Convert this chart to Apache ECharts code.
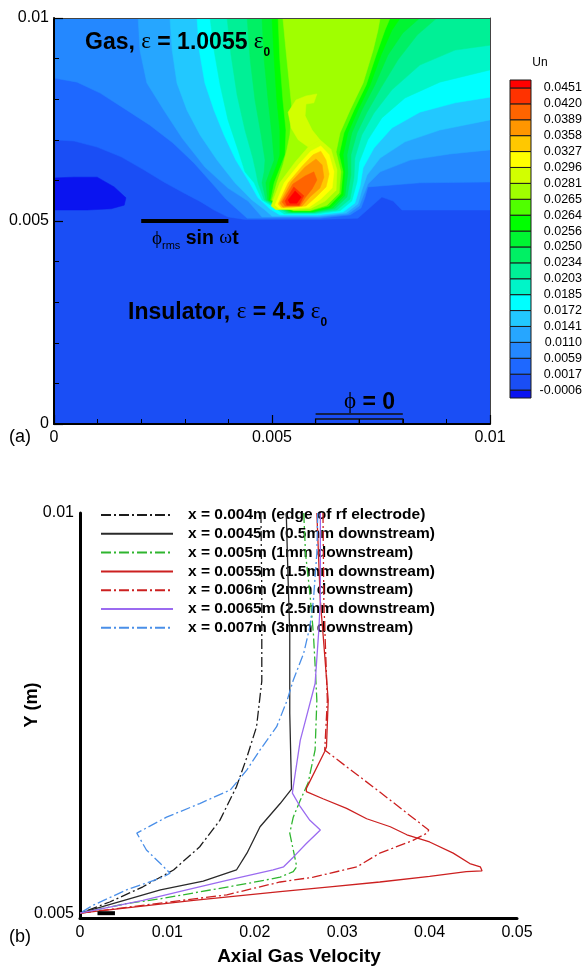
<!DOCTYPE html>
<html>
<head>
<meta charset="utf-8">
<script src="https://cdn.jsdelivr.net/npm/echarts@6.0.0/dist/echarts.min.js"></script>
<style>
  html, body { margin: 0; padding: 0; background: #fff; }
  #chart { width: 585px; height: 971px; }
</style>
</head>
<body>
<div id="chart"></div>
<script>
// ---------- (a) Un contour field ----------
// Contour levels shown on the colour bar (ascending)
const unLevels = [-0.0006, 0.0017, 0.0059, 0.0110, 0.0141, 0.0172, 0.0185, 0.0203, 0.0234, 0.0250,
                  0.0256, 0.0264, 0.0265, 0.0281, 0.0296, 0.0327, 0.0358, 0.0389, 0.0420, 0.0451];
// Fill colour of each band, from below the lowest level to above the highest
const bandColors = ['#0a14f0', '#1a4ef5', '#1e68ff', '#2488ff', '#26a6ff', '#22c8ff', '#00ffff',
                    '#00f5c8', '#00f096', '#00f064', '#00f532', '#00ff00', '#50ff00', '#a0ff00',
                    '#d2ff00', '#ffff00', '#ffc800', '#ff9600', '#ff6400', '#ff3200', '#ff0000'];

// Band outlines in mm [x, y]; each one encloses where Un lies in that band or above
const band1Base = [[0,0],[10,0],[10,10],[0,10]];
const band0Pocket = [[0,6.06],[0.46,6.08],[0.99,6.08],[1.38,5.84],[1.65,5.57],[1.61,5.39],[1.31,5.30],[0.76,5.27],[0,5.27]];
const band2 = [[0,10],[10,10],[10,5.27],[7.98,5.27],[7.78,5.49],[7.52,5.59],[6.97,5.07],[6.10,5.04],[4.38,5.04],[3.99,5.10],[3.67,5.27],[3.37,5.47],[2.98,5.69],[2.52,5.96],[2.06,6.26],[1.54,6.58],[0.99,6.82],[0.46,6.97],[0,7.00]];
const band3 = [[0,10],[10,10],[10,5.96],[8.39,5.94],[7.20,5.84],[7.13,5.57],[7.04,5.32],[6.79,5.15],[6.10,5.07],[4.43,5.07],[3.94,5.54],[3.60,5.96],[3.21,6.43],[2.73,6.92],[2.20,7.36],[1.67,7.73],[1.06,8.15],[0.53,8.42],[0,8.52]];
const band4 = [[1.93,10],[10,10],[10,6.75],[9.08,6.65],[8.17,6.50],[7.48,6.21],[7.20,5.91],[7.09,5.62],[7.00,5.37],[6.74,5.17],[6.08,5.10],[4.77,5.10],[4.45,5.49],[3.99,5.81],[3.46,6.33],[2.94,7.04],[2.52,7.73],[2.13,8.40],[1.97,9.21]];
const band5 = [[2.66,10],[10,10],[10,7.49],[8.85,7.24],[8.05,6.95],[7.48,6.55],[7.18,6.13],[7.06,5.76],[6.97,5.42],[6.70,5.20],[6.06,5.12],[5.00,5.12],[4.84,5.27],[4.54,5.52],[4.15,5.94],[3.74,6.50],[3.35,7.12],[3.05,7.73],[2.82,8.40],[2.71,9.21]];
const band6 = [[3.28,10],[10,10],[10,8.05],[9.20,7.91],[8.39,7.68],[7.75,7.29],[7.34,6.80],[7.09,6.31],[7.02,5.86],[6.90,5.44],[6.63,5.22],[6.03,5.15],[5.18,5.15],[4.95,5.30],[4.68,5.57],[4.45,6.01],[4.17,6.50],[3.90,7.12],[3.67,7.73],[3.46,8.40],[3.33,9.21]];
const band7 = [[3.58,10],[10,10],[10,8.72],[8.85,8.42],[8.05,8.03],[7.52,7.54],[7.20,7.00],[7.00,6.45],[6.95,5.96],[6.83,5.49],[6.56,5.25],[6.01,5.17],[5.28,5.17],[5.07,5.32],[4.77,5.52],[4.59,5.94],[4.38,6.21],[4.22,6.75],[3.99,7.49],[3.81,8.35],[3.67,9.21]];
const band8 = [[3.97,10],[10,10],[10,9.33],[9.20,9.21],[8.39,8.84],[7.75,8.23],[7.34,7.66],[7.06,7.12],[6.90,6.55],[6.88,6.06],[6.79,5.54],[6.49,5.27],[5.99,5.20],[5.34,5.20],[5.11,5.33],[4.82,5.52],[4.68,5.94],[4.63,6.21],[4.56,6.55],[4.38,7.24],[4.20,8.10],[4.06,9.09]];
const band9 = [[4.43,10],[8.78,10],[8.33,9.58],[7.89,8.97],[7.50,8.28],[7.18,7.68],[6.95,7.17],[6.81,6.63],[6.81,6.13],[6.72,5.59],[6.44,5.30],[5.96,5.21],[5.39,5.21],[5.16,5.34],[4.86,5.52],[4.77,5.94],[4.82,6.21],[4.84,6.50],[4.75,7.12],[4.61,7.98],[4.50,8.97]];
const band10 = [[4.77,10],[8.39,10],[8.00,9.63],[7.66,9.09],[7.36,8.35],[7.06,7.73],[6.83,7.17],[6.72,6.63],[6.74,6.18],[6.67,5.62],[6.40,5.32],[5.94,5.22],[5.44,5.22],[5.18,5.34],[4.90,5.52],[4.86,5.94],[4.95,6.21],[5.05,6.50],[5.00,7.12],[4.91,7.98],[4.82,8.97]];
const band11 = [[5.00,10],[7.94,10],[7.75,9.70],[7.50,9.09],[7.25,8.35],[6.97,7.73],[6.74,7.17],[6.63,6.63],[6.67,6.21],[6.63,5.64],[6.35,5.34],[5.92,5.23],[5.46,5.23],[5.21,5.36],[4.93,5.52],[4.95,5.94],[5.11,6.38],[5.18,6.63],[5.18,7.24],[5.11,7.98],[5.05,8.97]];
const band12 = [[5.14,10],[7.71,10],[7.59,9.70],[7.39,9.09],[7.16,8.35],[6.88,7.73],[6.65,7.17],[6.54,6.63],[6.63,6.21],[6.58,5.67],[6.31,5.37],[5.89,5.25],[5.48,5.25],[5.23,5.37],[4.97,5.52],[5.05,5.94],[5.21,6.38],[5.30,6.63],[5.32,7.24],[5.25,7.98],[5.18,8.97]];
const band13 = [[5.25,10],[7.48,10],[7.43,9.70],[7.32,9.21],[7.09,8.40],[6.79,7.73],[6.56,7.17],[6.47,6.70],[6.58,6.21],[6.54,5.69],[6.26,5.39],[5.87,5.26],[5.50,5.26],[5.25,5.38],[5.00,5.52],[5.11,5.94],[5.25,6.38],[5.34,6.75],[5.41,7.12],[5.46,7.73],[5.39,8.47],[5.32,9.21]];
const band14Spot = [[4.98,5.37],[5.18,5.94],[5.53,6.45],[5.83,6.82],[6.10,7.00],[6.35,6.77],[6.49,6.26],[6.47,5.76],[6.22,5.49],[5.89,5.31],[5.50,5.28],[5.09,5.28]];
const band14Plume = [[5.37,7.68],[5.55,7.98],[5.78,8.08],[6.03,8.13],[5.96,7.91],[5.78,7.88],[5.76,7.59],[5.92,7.24],[6.10,7.00],[5.83,6.82],[5.60,7.00],[5.44,7.29]];
const band15 = [[5.07,5.39],[5.28,5.94],[5.62,6.40],[5.89,6.72],[6.12,6.85],[6.31,6.63],[6.42,6.21],[6.38,5.81],[6.12,5.54],[5.85,5.34],[5.50,5.31],[5.16,5.31]];
const band16 = [[5.14,5.42],[5.37,5.94],[5.69,6.35],[5.94,6.63],[6.12,6.72],[6.24,6.50],[6.31,6.16],[6.24,5.84],[6.01,5.59],[5.78,5.37],[5.46,5.33],[5.21,5.33]];
const band17 = [[5.18,5.44],[5.44,5.96],[5.76,6.33],[6.01,6.53],[6.15,6.38],[6.19,6.08],[6.10,5.81],[5.87,5.59],[5.69,5.37],[5.25,5.34]];
const band18 = [[5.23,5.47],[5.48,5.91],[5.76,6.11],[5.96,6.21],[6.03,6.01],[5.92,5.79],[5.76,5.57],[5.64,5.37],[5.30,5.37]];
const band19 = [[5.30,5.49],[5.50,5.84],[5.73,5.62],[5.62,5.39],[5.34,5.39]];
const band20 = [[5.37,5.52],[5.53,5.74],[5.67,5.59],[5.57,5.44],[5.41,5.44]];

// Drawing order: [band index, outline]
const contourRegions = [
  [1, band1Base], [0, band0Pocket], [2, band2], [3, band3], [4, band4], [5, band5], [6, band6],
  [7, band7], [8, band8], [9, band9], [10, band10], [11, band11], [12, band12], [13, band13],
  [14, band14Spot], [14, band14Plume], [15, band15], [16, band16], [17, band17], [18, band18],
  [19, band19], [20, band20]
];

// Electrodes (m)
const rfElectrode = [0.002, 0.004];
const groundElectrode = [0.006, 0.008];
const surfaceY = 0.005;

// ---------- (b) Axial gas velocity profiles: [velocity, Y (m)] ----------
const profileNames = [
  'x = 0.004m (edge of rf electrode)',
  'x = 0.0045m (0.5mm downstream)',
  'x = 0.005m (1mm downstream)',
  'x = 0.0055m (1.5mm downstream)',
  'x = 0.006m (2mm downstream)',
  'x = 0.0065m (2.5mm downstream)',
  'x = 0.007m (3mm downstream)'
];
const profile004 = [[0.0207,0.0100],[0.0208,0.0090],[0.0208,0.0079],[0.0202,0.00733],[0.0191,0.00695],[0.0179,0.00658],[0.0160,0.00616],[0.0137,0.00583],[0.0107,0.00554],[0.0072,0.00533],[0.0034,0.00514],[0,0.0050]];
const profile0045 = [[0.0236,0.0100],[0.0238,0.0092],[0.0240,0.0085],[0.0240,0.0075],[0.0242,0.00655],[0.0229,0.00637],[0.0206,0.00608],[0.0191,0.00575],[0.0179,0.00554],[0.0141,0.00540],[0.0092,0.00529],[0,0.0050]];
const profile005 = [[0.0256,0.0100],[0.0258,0.0095],[0.0263,0.0090],[0.0267,0.0085],[0.0269,0.0081],[0.0271,0.00766],[0.0269,0.00704],[0.0261,0.00663],[0.0252,0.00641],[0.0244,0.00620],[0.0240,0.00600],[0.0244,0.00579],[0.0248,0.00558],[0.0244,0.00552],[0.0229,0.00545],[0.0191,0.00537],[0.0149,0.00529],[0.0092,0.00518],[0.0053,0.00512],[0,0.0050]];
const profile0055 = [[0.0271,0.0100],[0.0275,0.0089],[0.0278,0.0085],[0.0284,0.00766],[0.0282,0.00708],[0.0280,0.00702],[0.0259,0.00656],[0.0259,0.00652],[0.0278,0.00643],[0.0305,0.00631],[0.0328,0.00618],[0.0355,0.00608],[0.0374,0.00598],[0.0400,0.00589],[0.0427,0.00575],[0.0446,0.00562],[0.0458,0.00558],[0.0460,0.00553],[0.0442,0.00552],[0.0400,0.00546],[0.0343,0.00539],[0.0286,0.00533],[0.0229,0.00527],[0.0130,0.00516],[0,0.0050]];
const profile006 = [[0.0278,0.0100],[0.0279,0.0089],[0.0283,0.00766],[0.0280,0.00704],[0.0305,0.00683],[0.0340,0.00654],[0.0374,0.00625],[0.0399,0.00604],[0.0397,0.00600],[0.0381,0.00591],[0.0343,0.00575],[0.0317,0.00558],[0.0267,0.00545],[0.0229,0.00539],[0.0168,0.00523],[0,0.0050]];
const profile0065 = [[0.0275,0.0100],[0.0275,0.0089],[0.0273,0.0085],[0.0269,0.00787],[0.0259,0.00745],[0.0252,0.00716],[0.0244,0.00658],[0.0243,0.00650],[0.0252,0.00633],[0.0263,0.00616],[0.0275,0.00604],[0.0259,0.00587],[0.0244,0.00570],[0.0233,0.00558],[0.0221,0.00554],[0.0168,0.00541],[0.0122,0.00529],[0.0072,0.00516],[0,0.0050]];
const profile007 = [[0.0272,0.0100],[0.0271,0.0095],[0.0267,0.0089],[0.0263,0.00858],[0.0256,0.00825],[0.0244,0.00791],[0.0237,0.00766],[0.0225,0.00733],[0.0206,0.00704],[0.0191,0.00679],[0.0172,0.00654],[0.0137,0.00637],[0.0099,0.00620],[0.0065,0.00600],[0.0076,0.00579],[0.0092,0.00562],[0.0103,0.00550],[0.0095,0.00545],[0.0053,0.00529],[0.0015,0.00510],[0,0.0050]];
const profiles = [profile004, profile0045, profile005, profile0055, profile006, profile0065, profile007];

// ---------- styling ----------
const SANS = "'Liberation Sans', Arial, Helvetica, sans-serif";
const SERIF = "'Liberation Serif', 'DejaVu Serif', 'Times New Roman', serif";
const DASH_DOT = [10, 3, 2, 3];
const profileStyles = [
  { color: '#1c1c1c', type: DASH_DOT },
  { color: '#2a2a2a', type: 'solid' },
  { color: '#2fb52f', type: DASH_DOT },
  { color: '#cc2020', type: 'solid' },
  { color: '#cc2020', type: DASH_DOT },
  { color: '#9b6bf0', type: 'solid' },
  { color: '#4a8fe8', type: DASH_DOT }
];

// Rich label runs laid out left to right on a common baseline
const measureCtx = document.createElement('canvas').getContext('2d');
function textRun(x, baseline, parts) {
  const out = [];
  let cx = x;
  for (const [text, weight, size, family, dy] of parts) {
    const font = `${weight} ${size}px ${family}`;
    measureCtx.font = font;
    out.push({
      type: 'text', x: cx, y: baseline + (dy || 0) - 0.34 * size, z: 100, silent: true,
      style: { text, font, fill: '#000', textAlign: 'left', textVerticalAlign: 'middle' }
    });
    cx += measureCtx.measureText(text).width;
  }
  return out;
}

function drawRegion(params, api) {
  const [band, outline] = contourRegions[params.dataIndex];
  const points = outline.map(p => api.coord([p[0] / 1000, p[1] / 1000]));
  return {
    type: 'polygon', z2: params.dataIndex,
    shape: { points },
    style: { fill: bandColors[band], stroke: bandColors[band], lineWidth: 0.5 }
  };
}

function drawColorBox(params, api) {
  const i = params.dataIndex;
  const top = unLevels.length + 0.5;
  const lo = i === 0 ? 0.5 : i;
  const hi = i === bandColors.length - 1 ? top : i + 1;
  const tl = api.coord([0, hi]);
  const br = api.coord([1, lo]);
  return {
    type: 'rect',
    shape: { x: tl[0], y: tl[1], width: br[0] - tl[0], height: br[1] - tl[1] },
    style: { fill: bandColors[i], stroke: '#1a1a1a', lineWidth: 1 }
  };
}

function drawGround(params, api) {
  const a = api.coord([groundElectrode[0], 0]);
  const b = api.coord([groundElectrode[1], 0]);
  const m = api.coord([(groundElectrode[0] + groundElectrode[1]) / 2, 0]);
  const s = { stroke: '#111', lineWidth: 1.3, fill: null };
  return {
    type: 'group', children: [
      { type: 'line', shape: { x1: a[0], y1: a[1] - 10, x2: b[0], y2: b[1] - 10 }, style: s },
      { type: 'rect', shape: { x: a[0], y: a[1] - 5, width: b[0] - a[0], height: 5 }, style: s },
      { type: 'line', shape: { x1: m[0], y1: m[1] - 5, x2: m[0], y2: m[1] }, style: s }
    ]
  };
}

const B = 'bold', N = 'normal';
const graphicElements = [
  ...textRun(85, 50, [['Gas, ', B, 23, SANS], ['ε', N, 23, SERIF], [' = 1.0055 ', B, 23, SANS], ['ε', N, 23, SERIF], ['0', B, 12, SANS, 6.5]]),
  ...textRun(128, 320, [['Insulator, ', B, 23, SANS], ['ε', N, 23, SERIF], [' = 4.5 ', B, 23, SANS], ['ε', N, 23, SERIF], ['0', B, 12, SANS, 6.5]]),
  ...textRun(152, 245, [['ϕ', N, 19, SERIF], ['rms', N, 11, SANS, 5], [' sin ', B, 19.5, SANS], ['ω', N, 19.5, SERIF], ['t', B, 19.5, SANS]]),
  ...textRun(344, 410, [['ϕ', N, 23, SERIF], [' = 0', B, 23, SANS]]),
  { type: 'text', x: 9, y: 437, z: 100, silent: true, style: { text: '(a)', font: `18px ${SANS}`, fill: '#000', textAlign: 'left', textVerticalAlign: 'middle' } },
  { type: 'text', x: 9, y: 937, z: 100, silent: true, style: { text: '(b)', font: `18px ${SANS}`, fill: '#000', textAlign: 'left', textVerticalAlign: 'middle' } },
  { type: 'text', x: 540, y: 63, z: 100, silent: true, style: { text: 'Un', font: `12px ${SANS}`, fill: '#000', textAlign: 'center', textVerticalAlign: 'middle' } },
  { type: 'text', x: 32, y: 705, rotation: Math.PI / 2, z: 100, silent: true, style: { text: 'Y (m)', font: `bold 18px ${SANS}`, fill: '#000', textAlign: 'center', textVerticalAlign: 'middle' } },
  { type: 'text', x: 299, y: 957, z: 100, silent: true, style: { text: 'Axial Gas Velocity', font: `bold 19px ${SANS}`, fill: '#000', textAlign: 'center', textVerticalAlign: 'middle' } }
];

const tickLabel = { fontFamily: SANS, fontSize: 16, color: '#000' };
const blackLine = w => ({ show: true, onZero: false, lineStyle: { color: '#000', width: w } });
const fmt = v => String(+(+v).toFixed(4));

const option = {
  animation: false,
  backgroundColor: '#fff',
  grid: [
    { left: 54, top: 18, width: 436, height: 406 },
    { left: 80, top: 513, width: 437, height: 405 },
    { left: 510, top: 80, width: 21, height: 318 }
  ],
  xAxis: [
    { gridIndex: 0, type: 'value', min: 0, max: 0.01, interval: 0.005, z: 10,
      axisLine: blackLine(2),
      axisTick: { inside: true, length: 9, lineStyle: { color: '#000', width: 1.2 } },
      minorTick: { show: true, splitNumber: 5, length: 5, lineStyle: { color: '#000', width: 1 } },
      splitLine: { show: false },
      axisLabel: { ...tickLabel, margin: 6, formatter: fmt } },
    { gridIndex: 0, type: 'value', position: 'top', min: 0, max: 0.01, z: 10,
      axisLine: { show: true, onZero: false, lineStyle: { color: '#444', width: 1 } },
      axisTick: { show: false }, axisLabel: { show: false }, splitLine: { show: false } },
    { gridIndex: 1, type: 'value', min: 0, max: 0.05, interval: 0.01,
      axisLine: blackLine(3), axisTick: { show: false }, splitLine: { show: false },
      axisLabel: { ...tickLabel, margin: 7, formatter: fmt } },
    { gridIndex: 2, type: 'value', min: 0, max: 1, show: false }
  ],
  yAxis: [
    { gridIndex: 0, type: 'value', min: 0, max: 0.01, interval: 0.005, z: 10,
      axisLine: blackLine(2),
      axisTick: { inside: true, length: 9, lineStyle: { color: '#000', width: 1.2 } },
      minorTick: { show: true, splitNumber: 5, length: 5, lineStyle: { color: '#000', width: 1 } },
      splitLine: { show: false },
      axisLabel: { ...tickLabel, margin: 5, formatter: fmt } },
    { gridIndex: 0, type: 'value', position: 'right', min: 0, max: 0.01, z: 10,
      axisLine: { show: true, onZero: false, lineStyle: { color: '#444', width: 1 } },
      axisTick: { show: false }, axisLabel: { show: false }, splitLine: { show: false } },
    { gridIndex: 1, type: 'value', min: 0.00494, max: 0.01,
      axisLine: blackLine(3), axisTick: { show: false }, splitLine: { show: false },
      axisLabel: { ...tickLabel, margin: 6, customValues: [0.005, 0.01], formatter: fmt } },
    { gridIndex: 2, type: 'value', position: 'right', min: 0.5, max: unLevels.length + 0.5,
      axisLine: { show: false }, axisTick: { show: false }, splitLine: { show: false },
      axisLabel: {
        fontFamily: SANS, fontSize: 12.5, color: '#000', align: 'right', margin: 51,
        customValues: unLevels.map((_, i) => i + 1),
        formatter: v => unLevels[Math.round(v) - 1].toFixed(4)
      } }
  ],
  legend: {
    data: profileNames, left: 100, top: 507, orient: 'vertical', padding: 0,
    itemWidth: 72, itemHeight: 14, itemGap: 2.8, z: 1,
    selectedMode: false,
    itemStyle: { opacity: 0 },
    textStyle: { fontFamily: SANS, fontWeight: 'bold', fontSize: 15.5, color: '#000', lineHeight: 14, padding: [0, 0, 0, 10] }
  },
  graphic: { elements: graphicElements },
  series: [
    { type: 'custom', xAxisIndex: 0, yAxisIndex: 0, clip: true, silent: true, z: 1,
      renderItem: drawRegion,
      data: contourRegions.map(r => [r[1][0][0] / 1000, r[1][0][1] / 1000]) },
    { type: 'line', xAxisIndex: 0, yAxisIndex: 0, silent: true, z: 5, symbol: 'none',
      data: rfElectrode.map(x => [x, surfaceY]), lineStyle: { color: '#000', width: 4 } },
    { type: 'custom', xAxisIndex: 0, yAxisIndex: 0, silent: true, z: 5,
      renderItem: drawGround, data: [[groundElectrode[0], 0]] },
    { type: 'custom', xAxisIndex: 3, yAxisIndex: 3, silent: true, z: 2,
      renderItem: drawColorBox, data: bandColors.map((c, i) => [0.5, i + 0.5]) },
    ...profiles.map((data, i) => ({
      name: profileNames[i], type: 'line', xAxisIndex: 2, yAxisIndex: 2, data,
      symbol: 'none', silent: true, z: 3,
      lineStyle: { color: profileStyles[i].color, width: 1.3, type: profileStyles[i].type },
      itemStyle: { color: profileStyles[i].color }
    })),
    { type: 'line', xAxisIndex: 2, yAxisIndex: 2, silent: true, z: 4, symbol: 'none',
      data: rfElectrode.map(x => [x, surfaceY]), lineStyle: { color: '#000', width: 4 } }
  ]
};

const chart = echarts.init(document.getElementById('chart'), null, { renderer: 'canvas', width: 585, height: 971 });
chart.setOption(option);
</script>
</body>
</html>
